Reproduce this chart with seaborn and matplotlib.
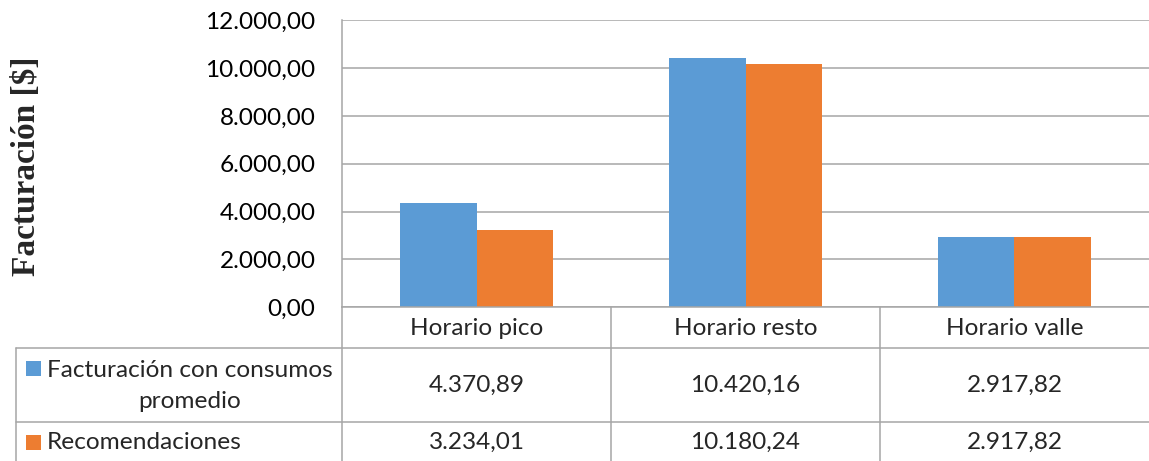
import matplotlib

matplotlib.use("Agg")
import matplotlib.pyplot as plt
import matplotlib.transforms as mtransforms
import pandas as pd
import seaborn as sns
from matplotlib.lines import Line2D
from matplotlib.patches import Rectangle
from matplotlib.ticker import FuncFormatter

categories = ["Horario pico", "Horario resto", "Horario valle"]
series_names = ["Facturación con consumos\npromedio", "Recomendaciones"]
promedio = [4370.89, 10420.16, 2917.82]
recomendaciones = [3234.01, 10180.24, 2917.82]
y_ticks = [0, 2000, 4000, 6000, 8000, 10000, 12000]
colors = ["#5B9BD5", "#ED7D31"]

W, H = 1149, 461
GRID = "#A6A6A6"
FONT = "Lato"
FS = 17.6


def es_num(v, pos=None):
    s = f"{v:,.2f}"
    return s.replace(",", "X").replace(".", ",").replace("X", ".")


def fy(px):
    return 1 - px / H


def fx(px):
    return px / W


def main() -> None:
    sns.set_style("white")
    plt.rcParams["font.family"] = [FONT, "DejaVu Sans"]

    df = pd.DataFrame(
        {
            "categoria": categories * 2,
            "serie": [series_names[0]] * 3 + [series_names[1]] * 3,
            "valor": promedio + recomendaciones,
        }
    )

    fig = plt.figure(figsize=(W / 100, H / 100), dpi=100)
    ax = fig.add_axes([fx(342), fy(307), fx(1149) - fx(342), fy(20.5) - fy(307)])

    sns.barplot(
        data=df,
        x="categoria",
        y="valor",
        hue="serie",
        order=categories,
        hue_order=series_names,
        palette=colors,
        width=0.572,
        gap=0,
        linewidth=0,
        saturation=1,
        legend=False,
        ax=ax,
    )
    ax.set_xlim(-0.5, 2.5)
    ax.set_ylim(0, 12000)
    ax.set_yticks(y_ticks)
    ax.yaxis.set_major_formatter(FuncFormatter(es_num))
    ax.grid(axis="y", color=GRID, linewidth=1.1)
    ax.set_axisbelow(True)
    ax.tick_params(axis="y", length=0, pad=19, labelsize=FS, labelcolor="#000000")
    ax.set_xticks([])
    ax.set_xlabel("")
    ax.set_ylabel("")
    for side in ["top", "right"]:
        ax.spines[side].set_visible(False)
    for side in ["left", "bottom"]:
        ax.spines[side].set_color(GRID)
        ax.spines[side].set_linewidth(1.1)

    fig.text(
        fx(27), fy(166), "Facturación [$]", rotation=90, ha="center", va="center",
        fontsize=24, fontweight="bold", family=["Liberation Serif", "DejaVu Serif"],
    )

    # data table below the plot
    trans = mtransforms.blended_transform_factory(ax.transData, fig.transFigure)
    row_y = [fy(328), fy(385), fy(442)]
    for i, cat in enumerate(categories):
        ax.text(i, row_y[0], cat, transform=trans, ha="center", va="center", fontsize=FS)
        ax.text(i, row_y[1], es_num(promedio[i]), transform=trans, ha="center", va="center", fontsize=FS)
        ax.text(i, row_y[2], es_num(recomendaciones[i]), transform=trans, ha="center", va="center", fontsize=FS)

    # table grid lines (figure pixels)
    lines = [
        ((16, 1149), (348, 348)),
        ((16, 1149), (422, 422)),
        ((16, 16), (348, 461)),
        ((342, 342), (307, 461)),
    ]
    for xs, ys in lines:
        fig.add_artist(Line2D([fx(x) for x in xs], [fy(y) for y in ys], color=GRID, lw=1.1))
    for b in [0.5, 1.5]:
        fig.add_artist(Line2D([b, b], [fy(307), fy(461)], transform=trans, color=GRID, lw=1.1))

    # legend keys + series names
    for color, name, yc in zip(colors, series_names, [368.5, 442.5]):
        fig.add_artist(Rectangle((fx(26), fy(yc + 7.5)), fx(15), fy(0) - fy(15),
                                 facecolor=color, edgecolor="none"))
    fig.text(fx(47), fy(386), series_names[0], ha="left", va="center", fontsize=FS,
             multialignment="center", linespacing=1.55)
    fig.text(fx(47), row_y[2], series_names[1], ha="left", va="center", fontsize=FS)

    fig.savefig("out.png", dpi=100)
    plt.close(fig)


if __name__ == "__main__":
    main()
